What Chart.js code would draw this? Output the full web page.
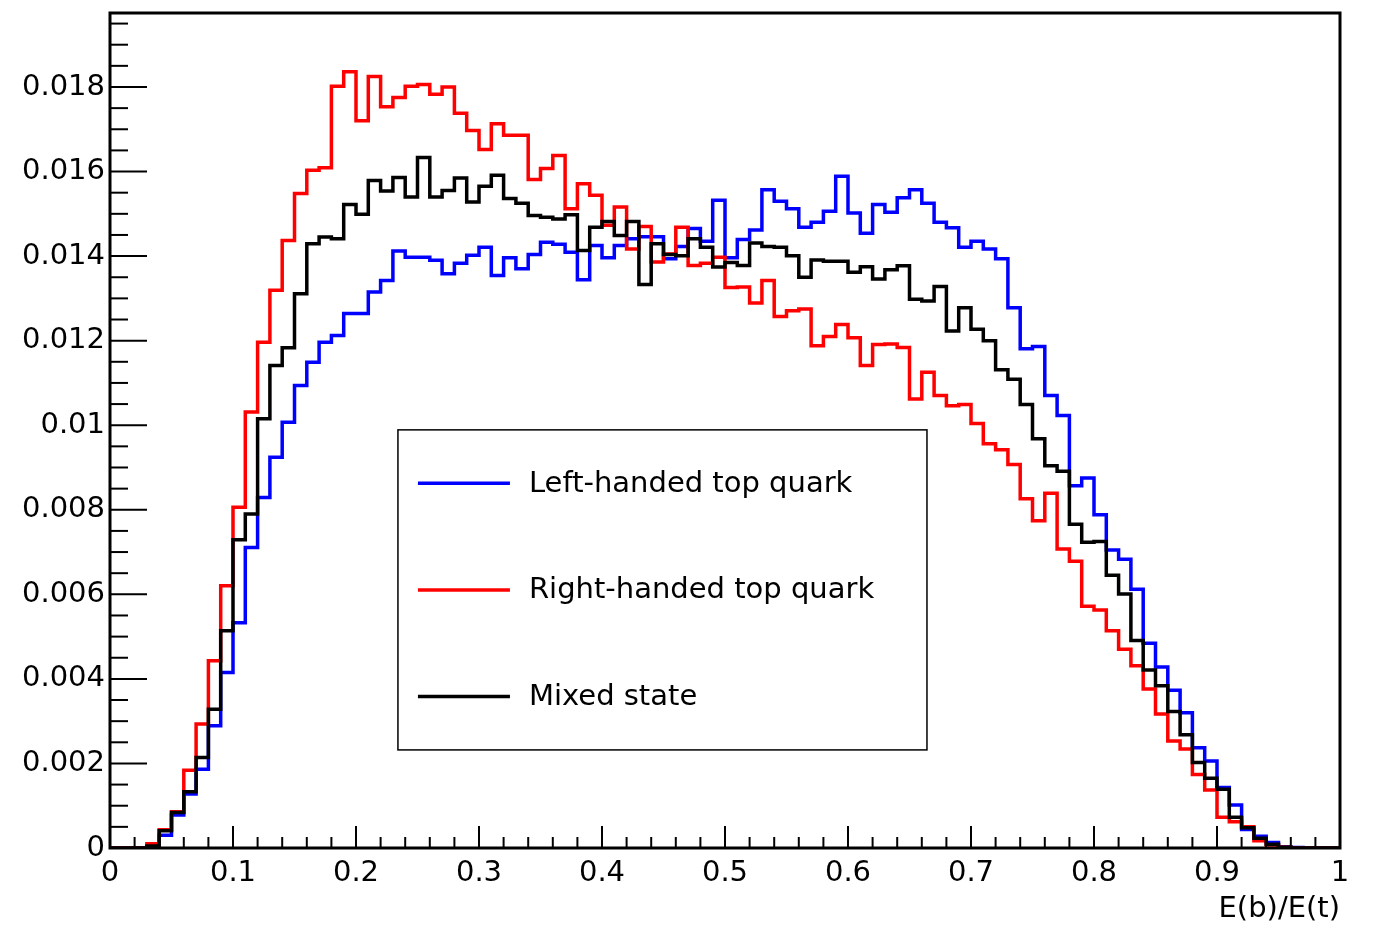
<!DOCTYPE html>
<html lang="en">
<head>
  <meta charset="UTF-8" />
  <title>E(b)/E(t)</title>
  <script src="https://cdn.jsdelivr.net/npm/chart.js"></script>
  <style>
    html, body { margin: 0; padding: 0; background: #fff; }
    #wrap { width: 1378px; height: 927px; }
  </style>
</head>
<body>
  <div id="wrap"><canvas id="hist" width="1378" height="927"></canvas></div>

  <script>
    // histogram binning: 100 bins on [0, 1]
    const nBins = 100, xLow = 0, xHigh = 1;

    const leftHanded = [
      0, 0, 0, 0.00002, 0.0003, 0.00078, 0.00128, 0.00186, 0.00289, 0.00415,
      0.00533, 0.00711, 0.00829, 0.00924, 0.01007, 0.01094, 0.01149, 0.01196, 0.01212, 0.01264,
      0.01264, 0.01315, 0.01342, 0.01412, 0.01397, 0.01397, 0.0139, 0.01358, 0.01383, 0.01402,
      0.01421, 0.01354, 0.01396, 0.0137, 0.01404, 0.01433, 0.01428, 0.01409, 0.01344, 0.01425,
      0.01396, 0.01425, 0.01441, 0.01446, 0.01446, 0.01394, 0.01423, 0.01465, 0.01435, 0.01532,
      0.01396, 0.01439, 0.01462, 0.01557, 0.0153, 0.01512, 0.01468, 0.0148, 0.01506, 0.01589,
      0.01502, 0.01454, 0.01522, 0.01504, 0.01538, 0.01557, 0.01525, 0.0148, 0.01467, 0.01421,
      0.01435, 0.01417, 0.01394, 0.01278, 0.01181, 0.01186, 0.0107, 0.01023, 0.00857, 0.00875,
      0.00788, 0.00705, 0.00683, 0.00612, 0.00484, 0.00428, 0.00373, 0.0032, 0.00237, 0.00206,
      0.00143, 0.00102, 0.00044, 0.00028, 0.00013, 0.00003, 0.00001, 0, 0, 0
    ];
    const rightHanded = [
      0, 0, 0, 0.0001, 0.00043, 0.00086, 0.00184, 0.00293, 0.00443, 0.0062,
      0.00806, 0.01031, 0.01196, 0.01319, 0.01437, 0.01548, 0.01603, 0.01609, 0.01802, 0.01836,
      0.0172, 0.01825, 0.01753, 0.01775, 0.01802, 0.01806, 0.01783, 0.018, 0.01738, 0.01697,
      0.01652, 0.01713, 0.01686, 0.01686, 0.01581, 0.01607, 0.01638, 0.01512, 0.01571, 0.01544,
      0.01473, 0.01516, 0.01417, 0.0147, 0.01386, 0.01405, 0.01468, 0.01378, 0.01383, 0.01397,
      0.01326, 0.01327, 0.01289, 0.01342, 0.01257, 0.01271, 0.01275, 0.01188, 0.0121, 0.01238,
      0.01207, 0.01141, 0.01191, 0.01192, 0.01184, 0.01062, 0.01125, 0.0107, 0.01046, 0.01049,
      0.01004, 0.00956, 0.00942, 0.00907, 0.00826, 0.00774, 0.00839, 0.00707, 0.00678, 0.00572,
      0.00563, 0.00514, 0.0047, 0.00431, 0.00376, 0.00317, 0.00253, 0.00234, 0.00174, 0.00137,
      0.00073, 0.00062, 0.0005, 0.00017, 0.00007, 0.00002, 0, 0, 0, 0
    ];
    const mixedState = [
      0, 0, 0, 0.00005, 0.00041, 0.00084, 0.00133, 0.00214, 0.00328, 0.00514,
      0.00729, 0.0079, 0.01015, 0.01141, 0.01183, 0.01311, 0.01429, 0.01445, 0.01441, 0.01522,
      0.01499, 0.01579, 0.01554, 0.01586, 0.0154, 0.01633, 0.0154, 0.01555, 0.01585, 0.01528,
      0.01565, 0.01591, 0.01536, 0.01525, 0.01496, 0.01492, 0.01488, 0.01498, 0.01413, 0.01468,
      0.01482, 0.01449, 0.01482, 0.01333, 0.01429, 0.01404, 0.01401, 0.01441, 0.01421, 0.01374,
      0.01385, 0.01378, 0.01431, 0.01423, 0.01421, 0.01401, 0.0135, 0.01391, 0.01388, 0.01388,
      0.01362, 0.01375, 0.01346, 0.01368, 0.01377, 0.01298, 0.01294, 0.01328, 0.01223, 0.01278,
      0.01227, 0.012, 0.01131, 0.01109, 0.01049, 0.00968, 0.00904, 0.00891, 0.00766, 0.00723,
      0.00725, 0.00645, 0.00601, 0.00491, 0.00421, 0.00384, 0.00323, 0.00268, 0.00202, 0.00165,
      0.00139, 0.00073, 0.00048, 0.00023, 0.00009, 0.00002, 0, 0, 0, 0
    ];

    const seriesLabels = ["Left-handed top quark", "Right-handed top quark", "Mixed state"];
    const seriesColors = ["#0000ff", "#ff0000", "#000000"];
    const xTitle = "E(b)/E(t)";
    const yMax = 0.01975;

    const FONT = "'DejaVu Sans', sans-serif";
    const fontSize = 29;

    // lower bin edges + closing point at the upper edge
    const binLow = Array.from({ length: nBins }, (_, i) => xLow + i * (xHigh - xLow) / nBins);
    function toSteps(values) {
      const pts = values.map((v, i) => ({ x: binLow[i], y: v }));
      pts.push({ x: xHigh, y: values[nBins - 1] });
      return pts;
    }

    function fmt(v) {
      return String(parseFloat(Number(v).toFixed(4)));
    }

    // ROOT style frame, inward ticks and legend box (given in data coords)
    const legendBox = { x0: 0.2341, x1: 0.6642, y0: 0.00989, y1: 0.00232 };

    const rootFrame = {
      id: "rootFrame",
      afterDatasetsDraw(chart) {
        const { ctx, chartArea: a, scales } = chart;
        const xs = scales.x, ys = scales.y;
        ctx.save();
        ctx.strokeStyle = "#000";

        // ticks on y axis
        ctx.lineWidth = 2;
        for (let k = 0; k * 0.0005 <= yMax + 1e-9; k++) {
          const py = ys.getPixelForValue(k * 0.0005);
          const len = (k % 4 === 0) ? 37 : 18;
          ctx.beginPath();
          ctx.moveTo(a.left, py);
          ctx.lineTo(a.left + len, py);
          ctx.stroke();
        }
        // ticks on x axis
        for (let k = 0; k <= 50; k++) {
          const px = xs.getPixelForValue(k * 0.02);
          const len = (k % 5 === 0) ? 22 : 11;
          ctx.beginPath();
          ctx.moveTo(px, a.bottom);
          ctx.lineTo(px, a.bottom - len);
          ctx.stroke();
        }

        // frame
        ctx.lineWidth = 3;
        ctx.strokeRect(a.left, a.top, a.right - a.left, a.bottom - a.top);

        // legend
        const lx0 = xs.getPixelForValue(legendBox.x0);
        const lx1 = xs.getPixelForValue(legendBox.x1);
        const ly0 = ys.getPixelForValue(legendBox.y0);
        const ly1 = ys.getPixelForValue(legendBox.y1);
        ctx.fillStyle = "#fff";
        ctx.fillRect(lx0, ly0, lx1 - lx0, ly1 - ly0);
        ctx.lineWidth = 1.5;
        ctx.strokeRect(lx0, ly0, lx1 - lx0, ly1 - ly0);

        const ds = chart.data.datasets;
        const rowH = (ly1 - ly0) / ds.length;
        ctx.font = fontSize + "px " + FONT;
        ctx.textAlign = "left";
        ctx.textBaseline = "middle";
        ds.forEach((d, i) => {
          const cy = ly0 + rowH * (i + 0.5);
          ctx.strokeStyle = d.borderColor;
          ctx.lineWidth = 3.5;
          ctx.beginPath();
          ctx.moveTo(lx0 + 20, cy);
          ctx.lineTo(lx0 + 112, cy);
          ctx.stroke();
          ctx.fillStyle = "#000";
          ctx.fillText(d.label, lx0 + 131, cy + 1);
        });
        ctx.restore();
      }
    };

    const ctx = document.getElementById("hist").getContext("2d");
    const series = [leftHanded, rightHanded, mixedState];

    new Chart(ctx, {
      type: "line",
      data: {
        datasets: series.map((vals, i) => ({
          label: seriesLabels[i],
          data: toSteps(vals),
          borderColor: seriesColors[i],
          borderWidth: 3.5,
          stepped: true,
          pointRadius: 0,
          fill: false,
          order: 3 - i
        }))
      },
      options: {
        responsive: false,
        animation: false,
        devicePixelRatio: 1,
        layout: { padding: { left: 0, top: 13, right: 38, bottom: 0 } },
        plugins: {
          legend: { display: false },
          tooltip: { enabled: false }
        },
        scales: {
          x: {
            type: "linear",
            min: xLow,
            max: xHigh,
            grid: { display: false, drawTicks: false },
            border: { display: false },
            ticks: {
              stepSize: 0.1,
              autoSkip: false,
              includeBounds: false,
              maxRotation: 0,
              padding: 8,
              color: "#000",
              font: { family: FONT, size: fontSize },
              callback: v => fmt(v)
            },
            title: {
              display: true,
              text: xTitle,
              align: "end",
              color: "#000",
              font: { family: FONT, size: fontSize },
              padding: { top: 0, bottom: 0 }
            },
            afterFit: s => { s.height = 79; s.paddingLeft = 0; s.paddingRight = 0; }
          },
          y: {
            type: "linear",
            min: 0,
            max: yMax,
            grid: { display: false, drawTicks: false },
            border: { display: false },
            ticks: {
              stepSize: 0.002,
              autoSkip: false,
              includeBounds: false,
              padding: 5,
              color: "#000",
              font: { family: FONT, size: fontSize },
              callback: v => fmt(v)
            },
            afterFit: s => { s.width = 110; s.paddingTop = 0; s.paddingBottom = 0; }
          }
        }
      },
      plugins: [rootFrame]
    });
  </script>
</body>
</html>
